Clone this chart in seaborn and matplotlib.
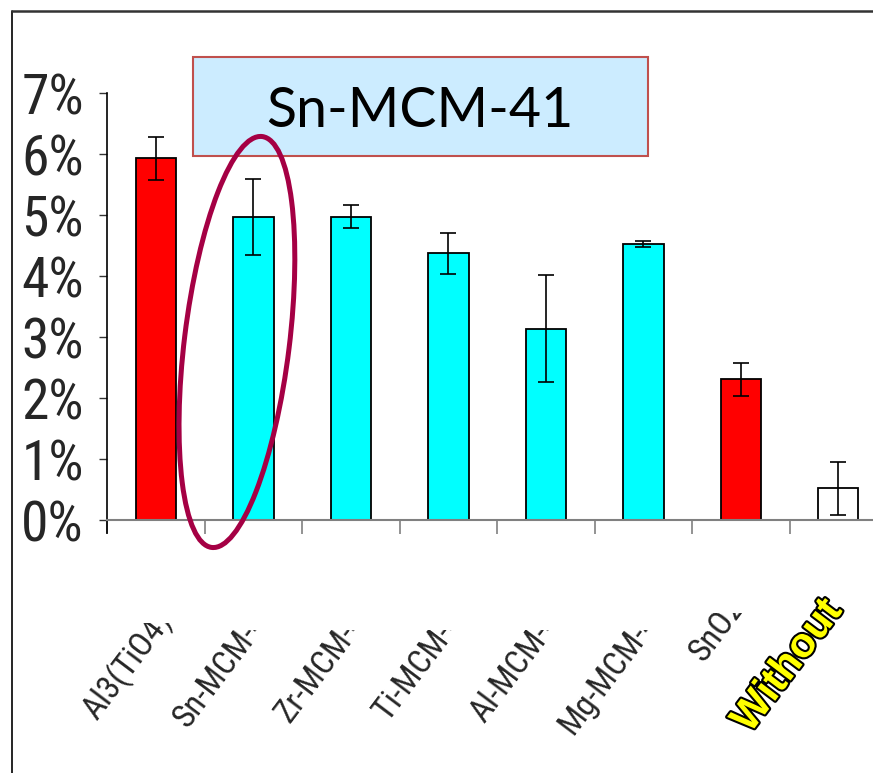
import numpy as np
import matplotlib
matplotlib.use("Agg")
import matplotlib.pyplot as plt
import matplotlib.transforms as mtransforms
import matplotlib.patheffects as pe
from matplotlib.patches import Ellipse, Rectangle
from matplotlib.lines import Line2D
from matplotlib.ticker import PercentFormatter
from matplotlib import font_manager
from matplotlib.font_manager import FontProperties
import pandas as pd
import seaborn as sns

# data
catalysts = ["Al3(TiO4)3", "Sn-MCM-41", "Zr-MCM-41", "Ti-MCM-41",
             "Al-MCM-41", "Mg-MCM-41", "SnO2", "Without"]
yields = [5.93, 4.97, 4.97, 4.37, 3.14, 4.52, 2.31, 0.52]
errors = [0.35, 0.62, 0.19, 0.34, 0.88, 0.05, 0.27, 0.44]
bar_colors = ["#FF0000", "#00FFFF", "#00FFFF", "#00FFFF",
              "#00FFFF", "#00FFFF", "#FF0000", "#FFFFFF"]
y_ticks = [0, 1, 2, 3, 4, 5, 6, 7]
title_text = "Sn-MCM-41"


def narrow_font(stretches):
    """Return a FontProperties for the narrowest sans face that is installed."""
    entries = font_manager.fontManager.ttflist
    for e in entries:
        if e.name == "Liberation Sans Narrow" and e.weight in (400, "normal", "regular"):
            return FontProperties(fname=e.fname), "narrow"
    for st in stretches:
        for name in ["Noto Sans", "Roboto Condensed", "Open Sans"]:
            for e in entries:
                if e.name == name and e.stretch == st and e.style == "normal" \
                        and e.weight in (400, "normal", "regular"):
                    return FontProperties(fname=e.fname), st
    return FontProperties(family="Liberation Sans"), "normal"


sns.set_style("white")
plt.rcParams["font.family"] = ["Liberation Sans", "DejaVu Sans"]

y_font, y_kind = narrow_font(["extra-condensed", "condensed", "semi-condensed"])
x_font, x_kind = narrow_font(["condensed", "semi-condensed", "extra-condensed"])
y_size = 44 if y_kind == "extra-condensed" else 40
x_size = {"condensed": 24, "narrow": 24, "semi-condensed": 22,
          "extra-condensed": 28}.get(x_kind, 20)

W, H = 873, 773
fig = plt.figure(figsize=(W / 100, H / 100), dpi=100)
ax = fig.add_axes([107.3 / W, (H - 533) / H, (887 - 107.3) / W, (533 - 93) / H])

df = pd.DataFrame({"catalyst": catalysts, "yield": yields})
sns.barplot(data=df, x="catalyst", y="yield", hue="catalyst", palette=bar_colors,
            legend=False, width=0.415, edgecolor="black", linewidth=1.3,
            saturation=1, errorbar=None, ax=ax)
ax.errorbar(np.arange(len(catalysts)), yields, yerr=errors, fmt="none",
            ecolor="black", elinewidth=1.2, capsize=5.5, capthick=1.2, zorder=4)

ax.set_xlim(-0.5, len(catalysts) - 0.5)
ax.set_ylim(-0.21, 7)
ax.set_xlabel("")
ax.set_ylabel("")

for s in ["top", "right"]:
    ax.spines[s].set_visible(False)
ax.spines["bottom"].set_position(("data", 0))
ax.spines["bottom"].set_color("#808080")
ax.spines["bottom"].set_linewidth(1.5)
ax.spines["left"].set_color("black")
ax.spines["left"].set_linewidth(1.2)

ax.set_yticks(y_ticks)
ax.yaxis.set_major_formatter(PercentFormatter(decimals=0))
ax.tick_params(axis="y", direction="out", length=5.8, width=1, color="#333333",
               pad=11, left=True)

ax.set_xticks(np.arange(len(catalysts)))
ax.set_xticks(np.arange(-0.5, len(catalysts)), minor=True)
ax.tick_params(axis="x", which="major", length=0, pad=59)
ax.tick_params(axis="x", which="minor", length=10, width=1.2, color="#808080",
               direction="out", bottom=True)
ax.set_xticklabels(catalysts, rotation=53, ha="right", va="center",
                   rotation_mode="anchor")

for lab in ax.get_yticklabels():
    lab.set_fontproperties(y_font)
    lab.set_fontsize(y_size)


def cut_above(px_from_top):
    """Clip box that hides everything above a horizontal line of the figure."""
    return mtransforms.TransformedBbox(
        mtransforms.Bbox([[0, 0], [1, (H - px_from_top) / H]]), fig.transFigure)


# labels are cut off, like the original narrow category boxes
for lab in ax.get_xticklabels():
    name = lab.get_text()
    if name == "Without":
        lab.set_transform(lab.get_transform() +
                          mtransforms.ScaledTranslation(-0.04, -0.02, fig.dpi_scale_trans))
        lab.set_fontfamily(["Liberation Sans", "DejaVu Sans"])
        lab.set_fontweight("bold")
        lab.set_fontsize(30)
        lab.set_color("#FFFF00")
        lab.set_path_effects([pe.withStroke(linewidth=3, foreground="black")])
        continue
    shift, cut = 0.19, 630
    if name == "SnO2":
        shift, cut = -0.02, 613
    elif name == "Al3(TiO4)3":
        cut = 623
    lab.set_fontproperties(x_font)
    lab.set_fontsize(x_size)
    lab.set_transform(lab.get_transform() +
                      mtransforms.ScaledTranslation(shift, 0, fig.dpi_scale_trans))
    lab.set_clip_box(cut_above(cut))
    lab.set_clip_on(True)

# outer frame
fig.add_artist(Line2D([12 / W, 12 / W], [0, 1 - 11 / H], transform=fig.transFigure,
                      color="black", lw=1.2))
fig.add_artist(Line2D([12 / W, 1.01], [1 - 11 / H, 1 - 11 / H], transform=fig.transFigure,
                      color="#333333", lw=1.8))

# title box
fig.add_artist(Rectangle((193 / W, 1 - 156 / H), 455 / W, 99 / H, transform=fig.transFigure,
                         facecolor="#CCECFF", edgecolor="#C0504D", lw=1.5, zorder=2))
fig.text(420 / W, 1 - 127 / H, title_text, ha="center", va="baseline", fontsize=40,
         family=["Lato", "DejaVu Sans"], color="black", zorder=3)

# highlight ring around the Sn-MCM-41 bar
ring_trans = fig.dpi_scale_trans + mtransforms.ScaledTranslation(0.83, 2.92, ax.transData)
fig.add_artist(Ellipse((0, 0), 1.05, 4.14, angle=-7, transform=ring_trans,
                       fill=False, edgecolor="#A50044", lw=3.6, zorder=4))

fig.savefig("out.png", dpi=100)
plt.close()
